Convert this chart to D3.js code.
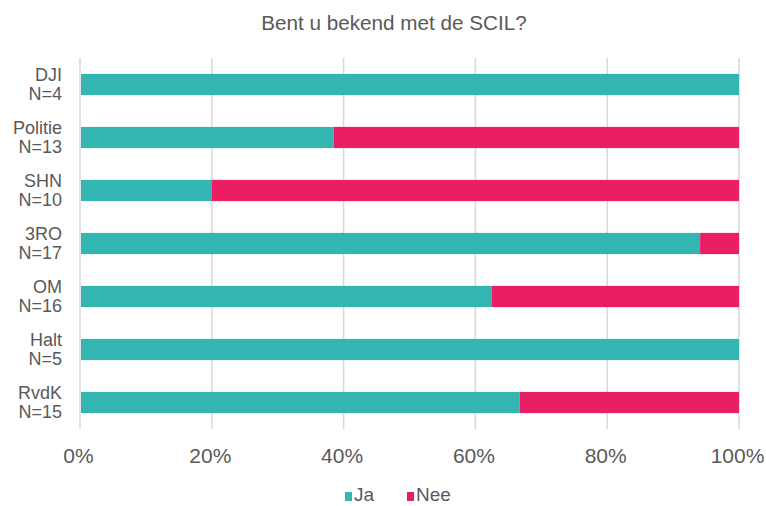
<!DOCTYPE html>
<html><head><meta charset="utf-8">
<script src="https://cdn.jsdelivr.net/npm/d3@7"></script>
<style>body{margin:0;background:#fff;} text{font-family:"Liberation Sans",Arial,sans-serif;fill:#595959;}</style>
</head><body>
<svg id="chart" width="766" height="506"></svg>
<script>
const categories = ["DJI","Politie","SHN","3RO","OM","Halt","RvdK"];
const counts = [4,13,10,17,16,5,15];
const ja = [1.0, 0.385, 0.20, 0.941, 0.625, 1.0, 0.667];
const nee = [0.0, 0.615, 0.80, 0.059, 0.375, 0.0, 0.333];
const seriesNames = ["Ja","Nee"];
const colors = ["#33B5B1","#E91E63"];
const tickValues = [0,0.2,0.4,0.6,0.8,1.0];

const svg = d3.select("#chart");
const x = d3.scaleLinear().domain([0,1]).range([80,739]);
const y = d3.scaleBand().domain(categories).range([58,429]).paddingInner(0.6).paddingOuter(0.3);

svg.append("text").attr("x",394).attr("y",30).attr("text-anchor","middle")
  .style("font-size","20.7px").text("Bent u bekend met de SCIL?");

// gridlines
svg.append("g").selectAll("line").data(tickValues).join("line")
  .attr("x1",d=>x(d)).attr("x2",d=>x(d)).attr("y1",58).attr("y2",429)
  .attr("stroke","#d9d9d9").attr("stroke-width",1.5);

const rows = categories.map((c,i)=>({c, vals:[ja[i],nee[i]]}));
rows.forEach(r=>{
  let acc=0;
  r.vals.forEach((v,k)=>{
    if(v>0){
      svg.append("rect").attr("x",x(acc)+ (acc===0?1:0)).attr("y",y(r.c))
        .attr("width",x(acc+v)-x(acc)-(acc===0?1:0)).attr("height",y.bandwidth())
        .attr("fill",colors[k]);
    }
    acc+=v;
  });
});

// category labels
const lab = svg.append("g");
categories.forEach((c,i)=>{
  const cy = y(c)+y.bandwidth()/2;
  const t = lab.append("text").attr("text-anchor","end").style("font-size","18px");
  t.append("tspan").attr("x",62).attr("y",cy-3.5).text(c);
  t.append("tspan").attr("x",62).attr("y",cy+15.5).text("N="+counts[i]);
});

// x axis
const xAxis = d3.axisBottom(x).tickValues(tickValues).tickFormat(d3.format(".0%")).tickSize(0).tickPadding(0);
const gx = svg.append("g").attr("transform","translate(-2,463)").call(xAxis);
gx.select(".domain").remove();
gx.selectAll("text").style("font-size","21px").attr("fill","#595959").attr("dy","0").attr("y",0);

// legend
const leg = svg.append("g");
const legX = [345,407];
seriesNames.forEach((s,k)=>{
  leg.append("rect").attr("x",legX[k]).attr("y",492).attr("width",7).attr("height",9).attr("fill",colors[k]);
  leg.append("text").attr("x",legX[k]+9).attr("y",501).style("font-size","19px").text(s);
});
</script>
</body></html>
